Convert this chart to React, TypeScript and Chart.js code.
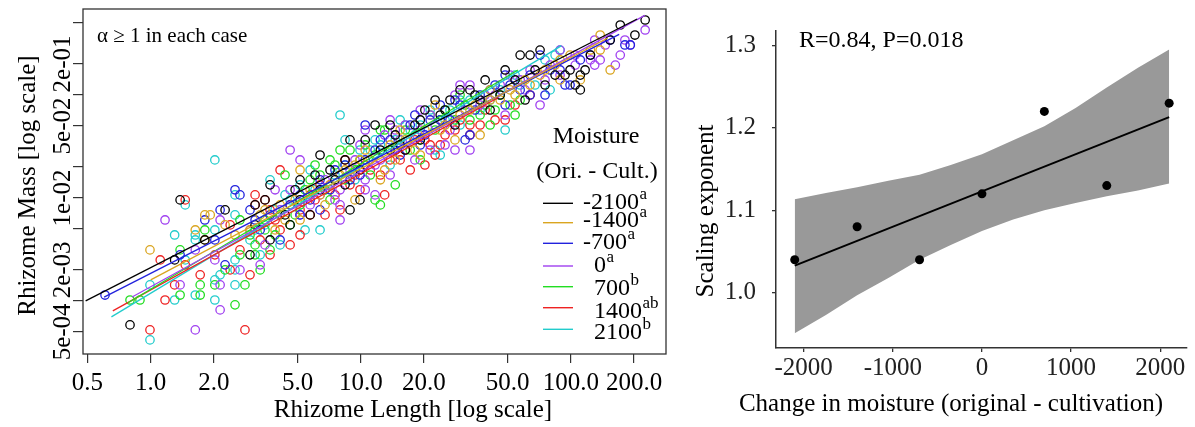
import React, { useEffect, useRef } from "react";
import { Chart, registerables } from "chart.js";
Chart.register(...registerables);

const SERIF = "'Liberation Serif', 'Times New Roman', Times, serif";

// ---------------- Left panel data ----------------
const moistureGroups = ["-2100", "-1400", "-700", "0", "700", "1400", "2100"];
const groupLetters = ["a", "a", "a", "a", "b", "ab", "b"];
const groupColors = ["#000000", "#DAA520", "#2222DD", "#A040F0", "#22DD22", "#EE2222", "#22CCCC"];

// [rhizome length, rhizome mass]
const ptsM2100 = [[0.797,0.000585],[1.30,0.00250],[1.38,0.00957],[1.81,0.00391],[2.26,0.00765],[2.97,0.00280],[3.14,0.00856],[3.70,0.0134],[6.06,0.0167],[6.40,0.0261],[8.89,0.00765],[9.92,0.00957],[8.89,0.0366],[10.5,0.0366],[11.7,0.0511],[13.8,0.0511],[20.2,0.0715],[22.6,0.0894],[26.6,0.0894],[29.7,0.112],[33.1,0.112],[39.1,0.140],[48.7,0.175],[57.4,0.244],[64.0,0.244],[71.4,0.273],[84.2,0.156],[93.9,0.156],[99.2,0.175],[111,0.156],[117,0.175],[105,0.125],[111,0.112],[60.6,0.0894],[124,0.244],[154,0.342],[172,0.478],[202,0.382],[226,0.535],[3.70,0.00391],[5.14,0.00957],[7.14,0.0187],[15.4,0.0327],[19.2,0.0572],[23.9,0.0639],[37.0,0.0894],[46.1,0.100],[19.2,0.0366],[13.8,0.0292],[8.42,0.0134],[4.61,0.00547],[5.74,0.00684],
  [3.14,0.00547],[3.50,0.00957],[4.36,0.00684],[4.87,0.0120],[7.54,0.0150],[8.42,0.0234],[12.4,0.0292],[14.6,0.0409],[16.3,0.0292],[18.1,0.0511],[25.2,0.0715],[28.1,0.0511],[35.0,0.100],[41.3,0.0715],[54.3,0.140],[67.6,0.175],[75.4,0.125],[5.14,0.0150],[6.40,0.0120],[9.92,0.0187]];
const ptsM1400 = [[0.992,0.00313],[1.81,0.00684],[1.92,0.00684],[1.63,0.00489],[1.81,0.00391],[2.26,0.00547],[2.52,0.00437],[5.14,0.0187],[9.39,0.00957],[22.6,0.0799],[18.1,0.0292],[19.2,0.0261],[28.1,0.0366],[37.0,0.0409],[13.0,0.0187],[12.4,0.0150],[138,0.382],[138,0.273],[154,0.175],[111,0.140],[54.3,0.100],[3.32,0.00684],[4.13,0.00856],[6.40,0.0107],[7.97,0.0167],[9.92,0.0234],[15.4,0.0457],[33.1,0.0715],[46.1,0.0894],[71.4,0.156],[84.2,0.195],[99.2,0.244],[2.97,0.00489],[5.14,0.00611],[7.14,0.0134],[10.5,0.0292],[25.2,0.0511],[41.3,0.112],[64.0,0.125],[88.9,0.140],[14.6,0.0234],[3.91,0.00489],
  [3.50,0.00765],[4.36,0.00611],[4.87,0.00957],[5.74,0.0120],[6.76,0.00856],[8.42,0.0187],[9.39,0.0209],[11.1,0.0234],[13.8,0.0327],[16.3,0.0366],[20.2,0.0457],[23.9,0.0457],[29.7,0.0639],[35.0,0.0799],[41.3,0.0894],[51.4,0.112],[60.6,0.140],[75.4,0.175],[88.9,0.219],[124,0.273]];
const ptsM700 = [[0.606,0.00114],[2.52,0.0120],[2.14,0.00765],[1.81,0.00611],[2.02,0.00391],[2.26,0.00224],[2.66,0.0107],[5.14,0.00684],[18.1,0.0639],[20.2,0.0409],[31.4,0.0366],[48.7,0.156],[48.7,0.0799],[71.4,0.244],[93.9,0.125],[99.2,0.125],[75.4,0.100],[64.0,0.100],[154,0.342],[181,0.306],[192,0.306],[57.4,0.112],[33.1,0.0409],[3.70,0.00684],[4.13,0.00391],[5.74,0.00957],[7.14,0.0120],[8.42,0.0209],[9.92,0.0167],[11.7,0.0292],[13.8,0.0366],[15.4,0.0261],[23.9,0.0572],[28.1,0.0894],[37.0,0.100],[43.6,0.125],[79.7,0.175],[111,0.219],[3.32,0.00489],[6.40,0.00765],[10.5,0.0511],[23.9,0.0799],[1.38,0.00280],[2.97,0.00765],
  [3.14,0.00611],[4.61,0.00856],[5.14,0.0107],[6.40,0.0150],[7.54,0.0187],[8.89,0.0150],[10.5,0.0234],[12.4,0.0366],[14.6,0.0292],[17.2,0.0511],[19.2,0.0327],[21.4,0.0572],[26.6,0.0572],[29.7,0.0799],[35.0,0.0715],[41.3,0.112],[51.4,0.125],[64.0,0.156],[88.9,0.175],[124,0.244]];
const pts0 = [[1.17,0.00611],[2.14,0.00611],[1.63,0.00313],[2.02,0.00250],[2.14,0.00143],[1.38,0.00143],[2.14,0.000818],[1.63,0.000523],[4.61,0.0292],[5.14,0.0234],[13.8,0.0572],[29.7,0.125],[33.1,0.125],[16.3,0.0511],[10.5,0.0457],[25.2,0.0327],[33.1,0.0292],[10.5,0.0150],[10.5,0.0120],[88.9,0.273],[105,0.244],[130,0.195],[130,0.342],[146,0.306],[181,0.342],[226,0.428],[71.4,0.0799],[48.7,0.0639],[192,0.306],[124,0.219],[163,0.195],[2.97,0.00489],[3.50,0.00350],[5.14,0.00684],[6.40,0.0107],[7.54,0.00957],[8.89,0.0187],[12.4,0.0234],[15.4,0.0366],[19.2,0.0457],[21.4,0.0639],[37.0,0.0799],[43.6,0.100],[57.4,0.140],[64.0,0.175],[79.7,0.195],[7.97,0.00611],[3.91,0.0120],[13.8,0.0167],[19.2,0.0715],[21.4,0.0292],[2.66,0.00200],[3.32,0.00224],
  [4.13,0.00765],[4.61,0.0120],[5.74,0.00856],[6.76,0.0150],[7.97,0.0120],[9.39,0.0234],[9.92,0.0327],[11.7,0.0209],[13.0,0.0409],[14.6,0.0457],[17.2,0.0366],[18.1,0.0234],[22.6,0.0511],[26.6,0.0457],[28.1,0.100],[31.4,0.0715],[39.1,0.100],[46.1,0.125],[51.4,0.156],[60.6,0.112],[75.4,0.140],[88.9,0.156],[105,0.195],[138,0.219],[172,0.244],[28.1,0.0292],[11.7,0.0107],[7.97,0.00856]];
const pts700 = [[1.81,0.00489],[1.38,0.00313],[1.72,0.00143],[1.72,0.00114],[1.38,0.00114],[0.889,0.00102],[0.797,0.00102],[2.02,0.00143],[2.52,0.000915],[6.06,0.0209],[7.14,0.0234],[4.36,0.0167],[2.66,0.00611],[7.14,0.00957],[4.61,0.00547],[3.91,0.00437],[3.14,0.00280],[2.81,0.00143],[29.7,0.100],[21.4,0.0639],[23.9,0.0572],[54.3,0.0639],[51.4,0.0799],[12.4,0.0457],[11.1,0.0167],[14.6,0.0134],[11.7,0.00957],[12.4,0.00856],[13.0,0.0457],[2.97,0.00437],[3.50,0.00611],[5.14,0.00856],[6.40,0.0167],[8.42,0.0150],[8.89,0.0292],[9.92,0.0234],[15.4,0.0366],[17.2,0.0292],[28.1,0.0572],[39.1,0.0799],[43.6,0.0715],[2.26,0.00200],[2.66,0.00280],[3.70,0.00313],[5.43,0.0120],[19.2,0.0234],[33.1,0.0572],[7.97,0.0292],[3.32,0.00200],
  [3.14,0.00350],[3.50,0.00489],[4.13,0.00684],[4.87,0.00684],[5.74,0.0150],[6.76,0.0120],[7.54,0.0209],[9.39,0.0187],[10.5,0.0327],[11.7,0.0261],[13.8,0.0292],[16.3,0.0457],[19.2,0.0366],[22.6,0.0457],[25.2,0.0715],[31.4,0.0799],[37.0,0.0639],[46.1,0.100],[41.3,0.0511],[57.4,0.0894]];
const pts1400 = [[1.46,0.00957],[2.39,0.00547],[1.11,0.00250],[1.46,0.00224],[1.72,0.00179],[1.30,0.00143],[1.17,0.00102],[0.992,0.000523],[2.81,0.000523],[4.13,0.0187],[3.14,0.0107],[3.50,0.00957],[3.14,0.00856],[4.13,0.00489],[3.70,0.00280],[5.74,0.00684],[7.97,0.00765],[6.76,0.00684],[20.2,0.0366],[20.2,0.0209],[17.2,0.0187],[13.0,0.0107],[43.6,0.0572],[33.1,0.0409],[11.1,0.0187],[14.6,0.0292],[48.7,0.0572],[5.14,0.00437],[4.61,0.00350],[2.66,0.00313],[2.39,0.00200],[2.97,0.00179],[5.74,0.0107],[7.14,0.0134],[9.39,0.0167],[9.92,0.0120],[15.4,0.0234],[23.9,0.0327],[28.1,0.0457],[37.0,0.0511],[22.6,0.0261],[8.42,0.0234],[2.02,0.00280],[3.70,0.00765],
  [3.32,0.00391],[3.91,0.00611],[4.61,0.00856],[5.14,0.00765],[6.06,0.00957],[6.40,0.0134],[7.54,0.0107],[8.89,0.0134],[10.5,0.0209],[12.4,0.0167],[13.8,0.0234],[16.3,0.0292],[18.1,0.0366],[21.4,0.0327],[25.2,0.0409],[29.7,0.0572],[33.1,0.0511],[39.1,0.0715],[54.3,0.0799],[64.0,0.100]];
const pts2100 = [[2.02,0.0234],[1.46,0.00856],[2.52,0.0107],[2.02,0.00489],[1.30,0.00437],[1.63,0.00437],[1.63,0.00391],[1.46,0.00250],[2.02,0.00160],[2.14,0.00179],[2.52,0.00250],[2.52,0.00200],[2.52,0.00143],[0.992,0.00143],[1.63,0.00114],[1.30,0.00102],[2.02,0.00102],[0.992,0.000418],[7.97,0.0639],[8.42,0.0366],[3.70,0.0150],[2.52,0.00684],[5.43,0.00489],[6.40,0.00489],[4.13,0.00350],[23.9,0.0261],[48.7,0.0457],[84.2,0.244],[79.7,0.112],[88.9,0.273],[22.6,0.0292],[2.97,0.00391],[3.50,0.00547],[4.61,0.00957],[5.14,0.0134],[6.76,0.0120],[9.39,0.0150],[11.1,0.0292],[12.4,0.0327],[13.8,0.0209],[17.2,0.0457],[19.2,0.0511],[26.6,0.0715],[33.1,0.0894],[41.3,0.0894],[57.4,0.125],[3.32,0.00280],[5.74,0.0187],[15.4,0.0572],[29.7,0.0511],
  [3.14,0.00489],[3.91,0.00765],[4.36,0.0107],[5.14,0.00856],[6.06,0.0120],[7.54,0.0167],[8.42,0.0209],[9.92,0.0292],[11.7,0.0366],[14.6,0.0366],[16.3,0.0511],[18.1,0.0409],[21.4,0.0715],[25.2,0.0572],[29.7,0.0894],[37.0,0.0715],[46.1,0.112],[54.3,0.156],[67.6,0.125],[75.4,0.219]];
const groupPoints = [ptsM2100, ptsM1400, ptsM700, pts0, pts700, pts1400, pts2100];

// fitted power-law lines: [start, end] of each group
const fitLength = [[0.49, 207], [1.0, 150], [0.60, 170], [0.815, 225], [0.78, 56], [0.66, 45], [0.65, 90]];
const fitMass = [[0.00100, 0.547], [0.00160, 0.358], [0.00109, 0.388], [0.00109, 0.593], [0.00096, 0.175], [0.00080, 0.094], [0.00070, 0.300]];

const lengthTicks = [0.5, 1, 2, 5, 10, 20, 50, 100, 200];
const lengthTickLabels = ["0.5", "1.0", "2.0", "5.0", "10.0", "20.0", "50.0", "100.0", "200.0"];
const massTicks = [5e-4, 1e-3, 2e-3, 5e-3, 1e-2, 2e-2, 5e-2, 0.1, 0.2, 0.5];
const massTickLabels = ["5e-04", "", "2e-03", "", "1e-02", "", "5e-02", "", "2e-01", ""];

// ---------------- Right panel data ----------------
const moistureChange = [-2100, -1400, -700, 0, 700, 1400, 2100];
const scalingExponent = [1.04, 1.08, 1.04, 1.12, 1.22, 1.13, 1.23];
const regX = [-2100, 2100];
const regY = [1.033, 1.213];
const bandX = [-2100, -1750, -1400, -1050, -700, -350, 0, 350, 700, 1050, 1400, 1750, 2100];
const bandUpper = [1.1135, 1.121, 1.128, 1.136, 1.143, 1.155, 1.168, 1.185, 1.202, 1.224, 1.249, 1.273, 1.295];
const bandLower = [0.951, 0.973, 0.997, 1.018, 1.040, 1.058, 1.075, 1.089, 1.100, 1.109, 1.117, 1.124, 1.1325];
const changeTicks = [-2000, -1000, 0, 1000, 2000];
const changeTickLabels = ["-2000", "-1000", "0", "1000", "2000"];
const exponentTicks = [1.0, 1.1, 1.2, 1.3];
const exponentTickLabels = ["1.0", "1.1", "1.2", "1.3"];

const leftDecor = {
  id: "leftDecor",
  afterDraw(chart: any) {
    const { ctx, chartArea: a } = chart;
    ctx.save();
    ctx.strokeStyle = "#333";
    ctx.lineWidth = 1.3;
    ctx.strokeRect(a.left, a.top, a.right - a.left, a.bottom - a.top);
    ctx.fillStyle = "#000";
    ctx.textBaseline = "alphabetic";
    ctx.textAlign = "left";
    ctx.font = `21px ${SERIF}`;
    ctx.fillText("\u03b1 \u2265 1 in each case", 97, 41.5);
    ctx.font = `25px ${SERIF}`;
    ctx.textAlign = "center";
    ctx.fillText("Rhizome Length [log scale]", 413, 416.5);
    ctx.save();
    ctx.translate(35, 185.5);
    ctx.rotate(-Math.PI / 2);
    ctx.fillText("Rhizome Mass [log scale]", 0, 0);
    ctx.restore();
    // legend
    ctx.font = `24px ${SERIF}`;
    ctx.fillText("Moisture", 596, 143);
    ctx.fillText("(Ori. - Cult.)", 597, 178);
    const lineY = [203.3, 222.7, 243.3, 266, 286.7, 307.7, 329.3];
    const baseY = [209, 227, 248.5, 271.5, 295, 318, 338.5];
    ctx.textAlign = "left";
    moistureGroups.forEach((g, i) => {
      ctx.strokeStyle = groupColors[i];
      ctx.lineWidth = 1.4;
      ctx.beginPath();
      ctx.moveTo(543, lineY[i]);
      ctx.lineTo(573, lineY[i]);
      ctx.stroke();
      const tx = g.startsWith("-") ? 583 : 594;
      ctx.font = `24px ${SERIF}`;
      ctx.fillText(g, tx, baseY[i]);
      const w = ctx.measureText(g).width;
      ctx.font = `17px ${SERIF}`;
      ctx.fillText(groupLetters[i], tx + w + 0.5, baseY[i] - 10);
    });
    ctx.restore();
  },
};

const rightDecor = {
  id: "rightDecor",
  afterDraw(chart: any) {
    const { ctx } = chart;
    ctx.save();
    ctx.fillStyle = "#000";
    ctx.textBaseline = "alphabetic";
    ctx.textAlign = "left";
    ctx.font = `24px ${SERIF}`;
    ctx.fillText("R=0.84, P=0.018", 109, 46.7);
    ctx.font = `25px ${SERIF}`;
    ctx.textAlign = "center";
    ctx.fillText("Change in moisture (original - cultivation)", 261, 411);
    ctx.save();
    ctx.translate(22.5, 211);
    ctx.rotate(-Math.PI / 2);
    ctx.fillText("Scaling exponent", 0, 0);
    ctx.restore();
    ctx.restore();
  },
};

function LeftChart() {
  const ref = useRef<HTMLCanvasElement>(null);
  useEffect(() => {
    const datasets: any[] = [];
    fitLength.forEach((xs, i) => {
      datasets.push({
        label: moistureGroups[i] + " fit",
        data: [{ x: xs[0], y: fitMass[i][0] }, { x: xs[1], y: fitMass[i][1] }],
        showLine: true,
        borderColor: groupColors[i],
        borderWidth: 1.3,
        pointRadius: 0,
        fill: false,
      });
    });
    groupPoints.forEach((pts, i) => {
      datasets.push({
        label: moistureGroups[i],
        data: pts.map(([x, y]) => ({ x, y })),
        showLine: false,
        pointStyle: "circle",
        pointRadius: 4.2,
        pointBorderWidth: 1.3,
        pointBorderColor: groupColors[i],
        pointBackgroundColor: "rgba(0,0,0,0)",
        borderColor: groupColors[i],
        backgroundColor: "rgba(0,0,0,0)",
      });
    });
    const tickFont = { family: SERIF, size: 25 };
    const chart = new Chart(ref.current!, {
      type: "scatter",
      data: { datasets },
      options: {
        responsive: false,
        animation: false,
        devicePixelRatio: 1,
        events: [],
        layout: { padding: { top: 9, right: 24, left: 0, bottom: 0 } },
        plugins: { legend: { display: false }, tooltip: { enabled: false } },
        scales: {
          x: {
            type: "logarithmic",
            min: 0.476,
            max: 284,
            bounds: "data",
            afterBuildTicks: (s: any) => { s.ticks = lengthTicks.map((v) => ({ value: v })); },
            afterFit: (s: any) => { s.height = 73; },
            ticks: {
              callback: (_v: any, i: number) => lengthTickLabels[i],
              font: tickFont, color: "#000", padding: 5,
              minRotation: 0, maxRotation: 0, autoSkip: false,
            },
            grid: { display: true, drawOnChartArea: false, drawTicks: true, tickLength: 9, color: "#333", lineWidth: 1.2 },
            border: { display: false },
          },
          y: {
            type: "logarithmic",
            min: 3.05e-4,
            max: 0.684,
            bounds: "data",
            afterBuildTicks: (s: any) => { s.ticks = massTicks.map((v) => ({ value: v })); },
            afterFit: (s: any) => { s.width = 83; },
            ticks: {
              callback: (_v: any, i: number) => massTickLabels[i],
              font: tickFont, color: "#000", padding: -18.5,
              minRotation: 90, maxRotation: 90, crossAlign: "center", autoSkip: false,
            },
            grid: { display: true, drawOnChartArea: false, drawTicks: true, tickLength: 10, color: "#333", lineWidth: 1.2 },
            border: { display: false },
          },
        },
      } as any,
      plugins: [leftDecor],
    });
    return () => chart.destroy();
  }, []);
  return <canvas ref={ref} width={690} height={427} style={{ display: "block" }} />;
}

function RightChart() {
  const ref = useRef<HTMLCanvasElement>(null);
  useEffect(() => {
    const tickFont = { family: SERIF, size: 25 };
    const chart = new Chart(ref.current!, {
      type: "scatter",
      data: {
        datasets: [
          {
            label: "Scaling exponent",
            data: moistureChange.map((x, i) => ({ x, y: scalingExponent[i] })),
            pointRadius: 4.5,
            pointBackgroundColor: "#000",
            pointBorderColor: "#000",
            pointBorderWidth: 0,
            showLine: false,
          },
          {
            label: "Linear fit",
            data: regX.map((x, i) => ({ x, y: regY[i] })),
            showLine: true,
            borderColor: "#000",
            borderWidth: 2,
            pointRadius: 0,
          },
          {
            label: "CI upper",
            data: bandX.map((x, i) => ({ x, y: bandUpper[i] })),
            showLine: true,
            borderWidth: 0,
            borderColor: "rgba(0,0,0,0)",
            backgroundColor: "#999999",
            pointRadius: 0,
            fill: "+1",
          },
          {
            label: "CI lower",
            data: bandX.map((x, i) => ({ x, y: bandLower[i] })),
            showLine: true,
            borderWidth: 0,
            borderColor: "rgba(0,0,0,0)",
            pointRadius: 0,
            fill: false,
          },
        ],
      },
      options: {
        responsive: false,
        animation: false,
        devicePixelRatio: 1,
        events: [],
        layout: { padding: { top: 24, right: 8, left: 0, bottom: 0 } },
        plugins: { legend: { display: false }, tooltip: { enabled: false } },
        scales: {
          x: {
            type: "linear",
            min: -2310,
            max: 2300,
            bounds: "data",
            afterBuildTicks: (s: any) => { s.ticks = changeTicks.map((v) => ({ value: v })); },
            afterFit: (s: any) => { s.height = 79; },
            ticks: { callback: (_v: any, i: number) => changeTickLabels[i], font: tickFont, color: "#222", padding: 1.5, minRotation: 0, maxRotation: 0, autoSkip: false },
            grid: { display: true, drawOnChartArea: false, drawTicks: true, tickLength: 4, color: "#333", lineWidth: 1.3 },
            border: { display: true, color: "#333", width: 1.5 },
          },
          y: {
            type: "linear",
            min: 0.933,
            max: 1.3175,
            bounds: "data",
            afterBuildTicks: (s: any) => { s.ticks = exponentTicks.map((v) => ({ value: v })); },
            afterFit: (s: any) => { s.width = 86; },
            ticks: { callback: (_v: any, i: number) => exponentTickLabels[i], font: tickFont, color: "#222", padding: 16, autoSkip: false },
            grid: { display: true, drawOnChartArea: false, drawTicks: true, tickLength: 4, color: "#333", lineWidth: 1.3 },
            border: { display: true, color: "#333", width: 1.5 },
          },
        },
      } as any,
      plugins: [rightDecor],
    });
    return () => chart.destroy();
  }, []);
  return <canvas ref={ref} width={505} height={427} style={{ display: "block" }} />;
}

export default function App() {
  return (
    <div style={{ position: "absolute", left: 0, top: 0, width: 1195, height: 427, background: "#fff" }}>
      <div style={{ position: "absolute", left: 0, top: 0 }}>
        <LeftChart />
      </div>
      <div style={{ position: "absolute", left: 690, top: 0 }}>
        <RightChart />
      </div>
    </div>
  );
}
